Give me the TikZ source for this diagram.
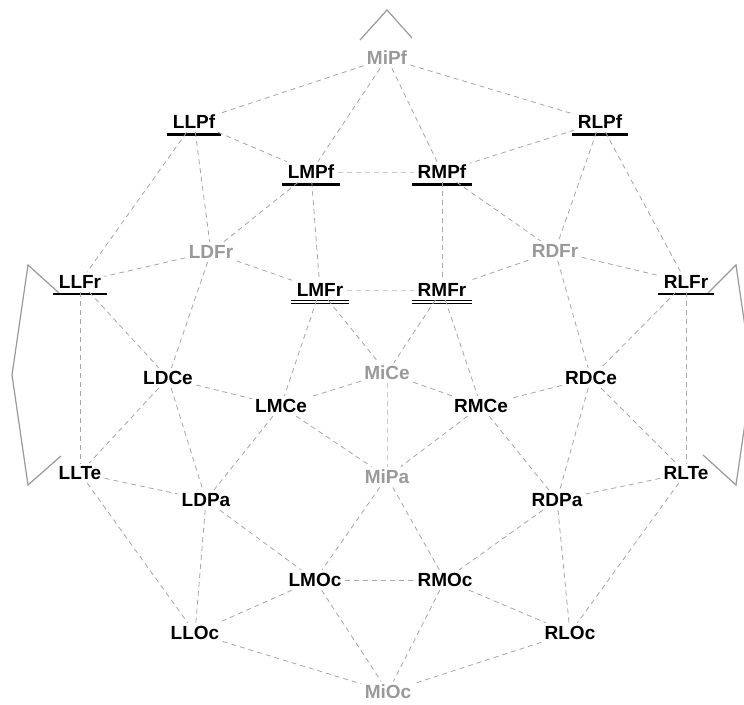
\documentclass[tikz,border=0pt]{standalone}
\usepackage{fontspec}
\setmainfont{Liberation Sans}
\tikzset{
  elec/.style={font=\fontsize{9.5}{10}\selectfont\bfseries, inner sep=1.5pt},
  midelec/.style={elec, text=gray!80},
  link/.style={dashed, dash pattern=on 2.5pt off 2pt, gray!70, line width=0.4pt},
  paleline/.style={link, gray!40},
  ubar/.style={line width=1.4pt, line cap=butt},
  dubar/.style={line width=0.5pt, double=white, double distance=0.6pt},
  outline/.style={gray!80, line width=0.6pt}
}
\begin{document}
\begin{tikzpicture}[x=0.5pt,y=-0.5pt]
  \clip (0,0) rectangle (744,705);

  % Head outline
  \draw[outline] (360,40) -- (387,10) -- (412,38);
  \draw[outline] (59,293) -- (28,265) -- (12,375) -- (28,485) -- (61,456);
  \draw[outline] (708,293) -- (736,265) -- (752,375) -- (736,485) -- (703,455);

  % Electrodes
  \node[midelec] (MiPf) at (387,58) {MiPf};
  \node[elec] (LLPf) at (194,122) {LLPf};
  \node[elec] (RLPf) at (600,122) {RLPf};
  \node[elec] (LMPf) at (311,172) {LMPf};
  \node[elec] (RMPf) at (442,172) {RMPf};
  \node[midelec] (LDFr) at (211,252) {LDFr};
  \node[midelec] (RDFr) at (555,251) {RDFr};
  \node[elec] (LLFr) at (80,282) {LLFr};
  \node[elec] (RLFr) at (686,282) {RLFr};
  \node[elec] (LMFr) at (320,290) {LMFr};
  \node[elec] (RMFr) at (442,290) {RMFr};
  \node[midelec] (MiCe) at (387,373) {MiCe};
  \node[elec] (LDCe) at (168,378) {LDCe};
  \node[elec] (RDCe) at (591,378) {RDCe};
  \node[elec] (LMCe) at (281,406) {LMCe};
  \node[elec] (RMCe) at (481,406) {RMCe};
  \node[elec] (LLTe) at (80,473) {LLTe};
  \node[elec] (RLTe) at (686,473) {RLTe};
  \node[midelec] (MiPa) at (387,477) {MiPa};
  \node[elec] (LDPa) at (206,500) {LDPa};
  \node[elec] (RDPa) at (557,500) {RDPa};
  \node[elec] (LMOc) at (315,580) {LMOc};
  \node[elec] (RMOc) at (445,580) {RMOc};
  \node[elec] (LLOc) at (195,633) {LLOc};
  \node[elec] (RLOc) at (570,633) {RLOc};
  \node[midelec] (MiOc) at (388,692) {MiOc};

  % Underlines
  \foreach \n in {LLPf,RLPf,LMPf,RMPf,LLFr,RLFr}
    \draw[ubar] ([shift={(-1pt,-1pt)}]\n.south west) -- ([shift={(1pt,-1pt)}]\n.south east);
  \foreach \n in {LMFr,RMFr}
    \draw[dubar] ([shift={(-1pt,-1pt)}]\n.south west) -- ([shift={(1pt,-1pt)}]\n.south east);

  % Connections
  \foreach \a/\b in {MiPf/LLPf,MiPf/RLPf,MiPf/LMPf,MiPf/RMPf,
      LLPf/LMPf,LLPf/LDFr,LLPf/LLFr,RLPf/RMPf,RLPf/RDFr,RLPf/RLFr,
      LMPf/LDFr,LMPf/LMFr,RMPf/RDFr,RMPf/RMFr,
      LDFr/LLFr,LDFr/LMFr,LDFr/LDCe,RDFr/RLFr,RDFr/RMFr,RDFr/RDCe,
      LMFr/MiCe,LMFr/LMCe,RMFr/MiCe,RMFr/RMCe,
      LLFr/LDCe,LLFr/LLTe,RLFr/RDCe,RLFr/RLTe,
      LDCe/LMCe,LDCe/LLTe,LDCe/LDPa,RDCe/RMCe,RDCe/RLTe,RDCe/RDPa,
      MiCe/LMCe,MiCe/RMCe,
      LMCe/LDPa,LMCe/MiPa,RMCe/RDPa,RMCe/MiPa,
      LLTe/LDPa,LLTe/LLOc,RLTe/RDPa,RLTe/RLOc,
      LDPa/LMOc,LDPa/LLOc,RDPa/RMOc,RDPa/RLOc,
      MiPa/LMOc,MiPa/RMOc,LMOc/RMOc,
      LMOc/LLOc,LMOc/MiOc,RMOc/RLOc,RMOc/MiOc,
      LLOc/MiOc,RLOc/MiOc}
    \draw[link] (\a) -- (\b);
  \foreach \a/\b in {LMPf/RMPf,LMFr/RMFr,MiCe/MiPa}
    \draw[paleline] (\a) -- (\b);
\end{tikzpicture}
\end{document}
